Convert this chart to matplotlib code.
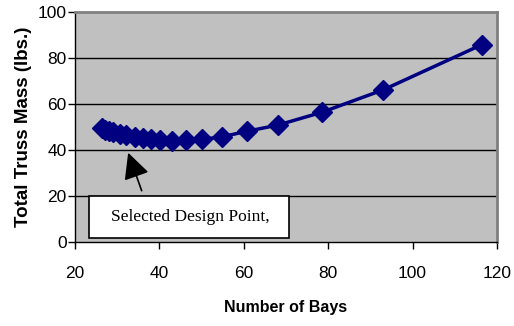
import matplotlib
matplotlib.use("Agg")
import matplotlib.pyplot as plt
from matplotlib.patches import Rectangle

# Truss mass versus number of bays
bays = [26.3, 27.2, 28.1, 29.1, 30.6, 32.2, 34.1, 36.1, 38.1, 40.1,
        43.1, 46.2, 50.2, 54.9, 60.7, 68.2, 78.5, 93.1, 116.4]
mass = [49.6, 48.9, 48.3, 47.7, 47.1, 46.4, 45.8, 45.2, 44.7, 44.2,
        44.0, 44.2, 44.6, 45.8, 48.1, 50.9, 56.4, 66.2, 85.8]

x_ticks = [20, 40, 60, 80, 100, 120]
y_ticks = [0, 20, 40, 60, 80, 100]
annotation_text = "Selected Design Point,"
design_point = (32.6, 38.8)

fig = plt.figure(figsize=(5.14, 3.26), dpi=100)
fig.patch.set_facecolor("white")
ax = fig.add_axes([75 / 514, 84 / 326, 422 / 514, 230 / 326])
ax.set_facecolor("#C0C0C0")

sans = ["Liberation Sans", "DejaVu Sans"]
serif = ["Liberation Serif", "DejaVu Serif"]

for y in y_ticks[1:-1]:
    ax.axhline(y, color="black", lw=1.0, zorder=1)

ax.plot(bays, mass, color="#000080", lw=2.5, marker="D", markersize=10,
        markerfacecolor="#000080", markeredgecolor="#000080", zorder=3)

ax.set_xlim(20, 120)
ax.set_ylim(0, 100)
ax.set_xticks(x_ticks)
ax.set_yticks(y_ticks)
ax.set_xticklabels([str(v) for v in x_ticks], family=sans, fontsize=12.5)
ax.set_yticklabels([str(v) for v in y_ticks], family=sans, fontsize=12.5)
ax.tick_params(axis="x", direction="out", length=5, width=1, pad=12, color="black")
ax.tick_params(axis="y", direction="out", length=5, width=1, pad=1, color="black")

for side in ("top", "right"):
    ax.spines[side].set_color("#808080")
    ax.spines[side].set_linewidth(2)
for side in ("left", "bottom"):
    ax.spines[side].set_color("black")
    ax.spines[side].set_linewidth(1)

ax.set_xlabel("Number of Bays", family=sans, fontsize=11.5, fontweight="bold", labelpad=14)
ax.set_ylabel("Total Truss Mass (lbs.)", family=sans, fontsize=13.5, fontweight="bold", labelpad=4)

# Callout box with arrow pointing at the chosen design
box = Rectangle((14 / 422, 4 / 230), 200 / 422, 42 / 230, transform=ax.transAxes,
                facecolor="white", edgecolor="black", lw=1.2, zorder=4)
ax.add_patch(box)
ax.text(115 / 422, 25 / 230, annotation_text, transform=ax.transAxes,
        ha="center", va="center", family=serif, fontsize=12.5, zorder=5)
ax.annotate("", xy=design_point, xytext=(35.8, 22.3),
            arrowprops=dict(arrowstyle="-|>,head_length=1.6,head_width=0.8",
                            color="black", lw=1.2, shrinkA=0, shrinkB=0),
            zorder=5)

fig.savefig("out.png", dpi=100)
